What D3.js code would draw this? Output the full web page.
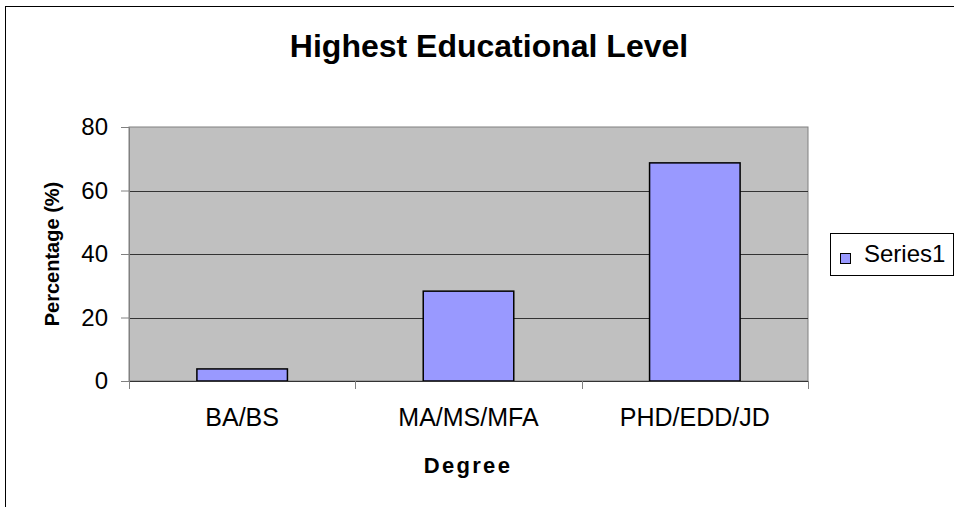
<!DOCTYPE html>
<html>
<head>
<meta charset="utf-8">
<script src="https://cdn.jsdelivr.net/npm/d3@7"></script>
<style>
  body { margin: 0; background: #fff; }
  svg { display: block; font-family: "Liberation Sans", Arial, sans-serif; }
</style>
</head>
<body>
<svg id="chart"></svg>
<script>
let categories = ["BA/BS", "MA/MS/MFA", "PHD/EDD/JD"];
let values = [3.8, 28.3, 68.7];
let yTicks = [0, 20, 40, 60, 80];
let seriesName = "Series1";

function chartConfig(){
    let width = 954;
    let height = 507;
    let margin = { top: 127, bottom: 126, left: 129, right: 146 };
    let bodyWidth = width - margin.left - margin.right;
    let bodyHeight = height - margin.top - margin.bottom;
    let container = d3.select("#chart")
        .attr("width", width)
        .attr("height", height);
    return {width, height, margin, bodyWidth, bodyHeight, container};
}

function chartScales(config){
    let {bodyWidth, bodyHeight} = config;
    let xScale = d3.scaleBand().range([0, bodyWidth]).domain(categories)
        .paddingInner(0.6).paddingOuter(0.3);
    let catScale = d3.scaleBand().range([0, bodyWidth]).domain(categories);
    let yScale = d3.scaleLinear().range([bodyHeight, 0]).domain([0, 80]);
    return {xScale, catScale, yScale};
}

function drawChart(){
    let config = chartConfig();
    let scales = chartScales(config);
    let {container, margin, bodyWidth, bodyHeight, width, height} = config;
    let {xScale, catScale, yScale} = scales;

    // outer frame
    container.append("rect")
        .attr("x", 5.5).attr("y", 6.5)
        .attr("width", width + 20).attr("height", height + 20)
        .attr("fill", "none").attr("stroke", "#000");

    container.append("text")
        .attr("x", 489).attr("y", 57)
        .attr("text-anchor", "middle")
        .attr("font-size", 32).attr("font-weight", "bold")
        .text("Highest Educational Level");

    let body = container.append("g")
        .attr("transform", `translate(${margin.left},${margin.top})`);

    body.append("rect")
        .attr("width", bodyWidth).attr("height", bodyHeight)
        .attr("fill", "#c0c0c0")
        .attr("stroke", "#808080");

    // gridlines
    body.selectAll(".grid").data(yTicks.filter(d => d > 0 && d < 80))
        .enter().append("line")
        .attr("x1", 0).attr("x2", bodyWidth)
        .attr("y1", d => Math.round(yScale(d)) + 0.5)
        .attr("y2", d => Math.round(yScale(d)) + 0.5)
        .attr("stroke", "#333");

    // bars
    body.selectAll(".bar").data(values)
        .enter().append("rect")
        .attr("x", (d, i) => xScale(categories[i]))
        .attr("y", d => yScale(d))
        .attr("width", xScale.bandwidth())
        .attr("height", d => bodyHeight - yScale(d))
        .attr("fill", "#9999ff")
        .attr("stroke", "#000")
        .attr("stroke-width", 1.5);

    // y axis
    let yAxis = d3.axisLeft(yScale).tickValues(yTicks).tickSize(8).tickPadding(13);
    let yg = body.append("g").call(yAxis);
    yg.select(".domain").attr("stroke", "#808080");
    yg.selectAll(".tick line").attr("stroke", "#808080");
    yg.selectAll(".tick text").attr("font-size", 24)
        .attr("font-family", "Liberation Sans, Arial, sans-serif").attr("fill", "#000");

    // x axis
    let xg = body.append("g").attr("transform", `translate(0,${bodyHeight})`);
    xg.append("line").attr("x1", 0).attr("x2", bodyWidth)
        .attr("y1", 0.5).attr("y2", 0.5).attr("stroke", "#333");
    let bounds = categories.map(c => catScale(c)).concat([bodyWidth]);
    xg.selectAll(".xt").data(bounds).enter().append("line")
        .attr("x1", d => Math.round(d) + 0.5).attr("x2", d => Math.round(d) + 0.5)
        .attr("y1", 0).attr("y2", 8).attr("stroke", "#808080");
    xg.selectAll(".xl").data(categories).enter().append("text")
        .attr("x", d => catScale(d) + catScale.bandwidth() / 2)
        .attr("y", 45)
        .attr("text-anchor", "middle")
        .attr("font-size", 25)
        .text(d => d);

    container.append("text")
        .attr("x", 468).attr("y", 473)
        .attr("text-anchor", "middle")
        .attr("font-size", 22).attr("font-weight", "bold")
        .attr("letter-spacing", 2.3)
        .text("Degree");

    container.append("text")
        .attr("transform", "translate(59,254) rotate(-90)")
        .attr("text-anchor", "middle")
        .attr("font-size", 20).attr("font-weight", "bold")
        .text("Percentage (%)");

    // legend
    let legend = container.append("g");
    legend.append("rect")
        .attr("x", 830.5).attr("y", 233.5).attr("width", 123).attr("height", 42)
        .attr("fill", "#fff").attr("stroke", "#000");
    legend.append("rect")
        .attr("x", 840.5).attr("y", 253.5).attr("width", 10).attr("height", 10)
        .attr("fill", "#9999ff").attr("stroke", "#000");
    legend.append("text")
        .attr("x", 864).attr("y", 262)
        .attr("font-size", 24)
        .text(seriesName);
}

drawChart();
</script>
</body>
</html>
